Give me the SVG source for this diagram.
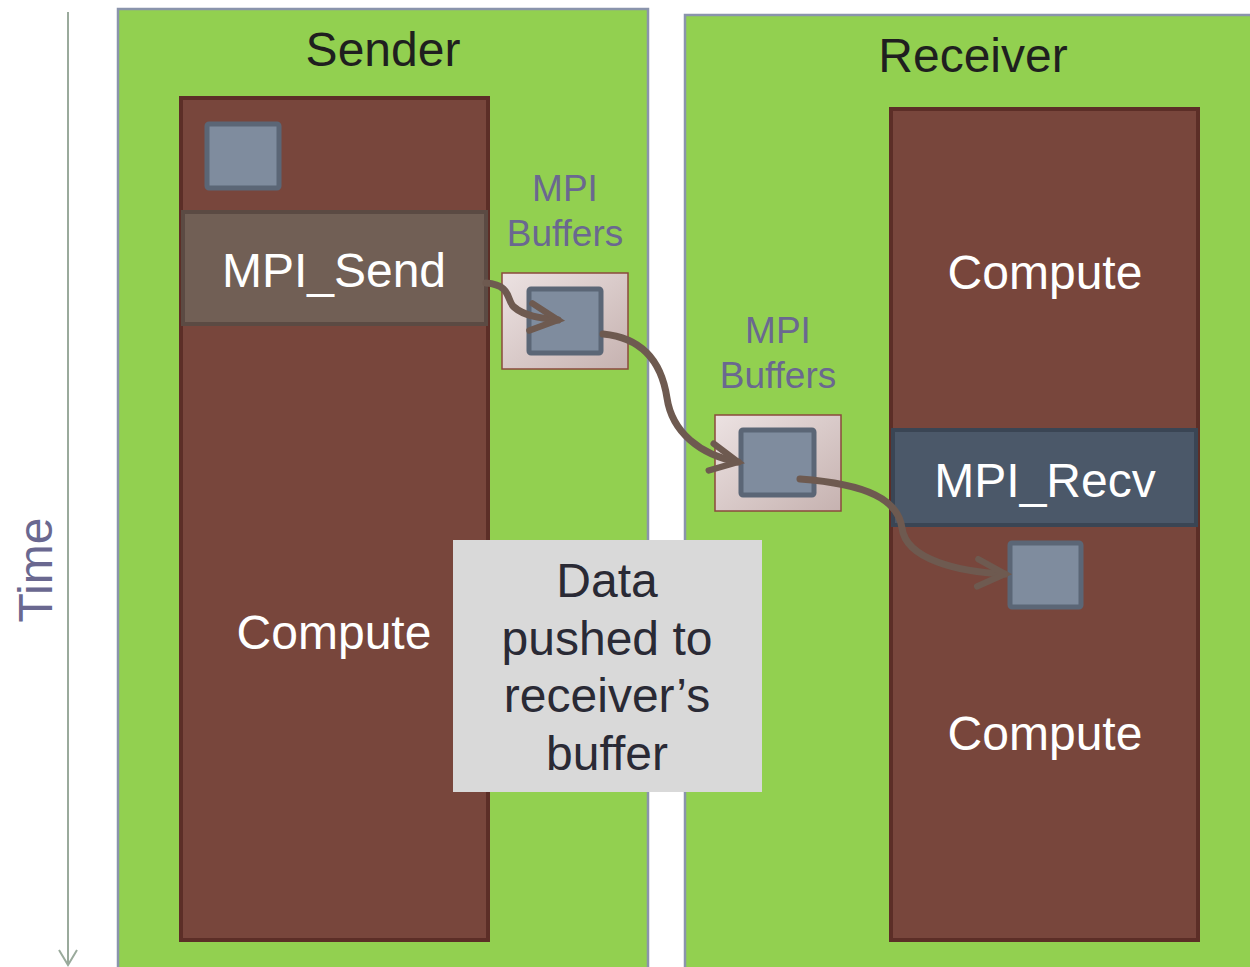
<svg xmlns="http://www.w3.org/2000/svg" width="1250" height="967" viewBox="0 0 1250 967">
  <style>
    .panel { fill: #92d050; stroke: #8a94ac; stroke-width: 2.5; }
    .title { font-family: "Liberation Sans", Arial, sans-serif; font-size: 48px; fill: #1f1f1f; text-anchor: middle; }
    .col { fill: #78463c; stroke: #5c2e27; stroke-width: 4; }
    .send { fill: #715f55; stroke: #5b4a43; stroke-width: 4; }
    .recv { fill: #4b5869; stroke: #3a4554; stroke-width: 4; }
    .white { font-family: "Liberation Sans", Arial, sans-serif; font-size: 48px; fill: #ffffff; text-anchor: middle; }
    .data { fill: #7f8c9e; stroke: #5b6676; stroke-width: 5; }
    .buf { fill: url(#bufGrad); stroke: #8a4a3c; stroke-width: 1.5; }
    .buflabel { font-family: "Liberation Sans", Arial, sans-serif; font-size: 37px; fill: #6a6890; text-anchor: middle; }
    .note { fill: #d9d9d9; }
    .notetext { font-family: "Liberation Sans", Arial, sans-serif; font-size: 48px; fill: #2a2a35; text-anchor: middle; }
    .flow { fill: none; stroke: #6e5a50; stroke-width: 7; stroke-linecap: round; marker-end: url(#chev); }
  </style>
  <defs>
    <linearGradient id="bufGrad" x1="0" y1="0" x2="1" y2="1">
      <stop offset="0" stop-color="#ece2e2"/>
      <stop offset="1" stop-color="#c6b2b0"/>
    </linearGradient>
    <marker id="chev" markerUnits="userSpaceOnUse" markerWidth="40" markerHeight="40" refX="0" refY="0" orient="auto" viewBox="-40 -20 44 40" overflow="visible">
      <path d="M-30,-15 L0,0 L-30,15" fill="none" stroke="#6e5a50" stroke-width="7" stroke-linecap="round" stroke-linejoin="miter"/>
    </marker>
  </defs>

  <rect width="1250" height="967" fill="#ffffff"/>

  <!-- time axis -->
  <g id="time-axis">
    <line x1="68" y1="12" x2="68" y2="964" stroke="#9aaa9c" stroke-width="2"/>
    <path d="M59,950 L68,965 L77,950" fill="none" stroke="#9aaa9c" stroke-width="2"/>
    <text x="52" y="570" transform="rotate(-90 52 570)" font-family="Liberation Sans, Arial, sans-serif" font-size="48" fill="#6a6890" text-anchor="middle">Time</text>
  </g>

  <!-- sender panel -->
  <g id="sender">
    <rect class="panel" x="118" y="9" width="530" height="975"/>
    <text class="title" x="383" y="66">Sender</text>
    <rect class="col" x="181" y="98" width="307" height="842"/>
    <rect class="send" x="183" y="212" width="303" height="112"/>
    <text class="white" x="334" y="287">MPI_Send</text>
    <text class="white" x="334" y="649">Compute</text>
    <rect class="data" x="207" y="124" width="72" height="64" rx="2"/>
  </g>

  <!-- sender MPI buffer -->
  <g id="sender-buffer">
    <text class="buflabel" x="565" y="201">MPI</text>
    <text class="buflabel" x="565" y="246">Buffers</text>
    <rect class="buf" x="502" y="273" width="126" height="96"/>
    <rect class="data" x="529" y="289" width="72" height="64" rx="2"/>
  </g>

  <!-- receiver panel -->
  <g id="receiver">
    <rect class="panel" x="685" y="15" width="590" height="975"/>
    <text class="title" x="973" y="72">Receiver</text>
    <rect class="col" x="891" y="109" width="307" height="831"/>
    <rect class="recv" x="893" y="430" width="303" height="95"/>
    <text class="white" x="1045" y="289">Compute</text>
    <text class="white" x="1045" y="497">MPI_Recv</text>
    <text class="white" x="1045" y="750">Compute</text>
    <rect class="data" x="1010" y="543" width="71" height="64" rx="2"/>
  </g>

  <!-- receiver MPI buffer -->
  <g id="receiver-buffer">
    <text class="buflabel" x="778" y="343">MPI</text>
    <text class="buflabel" x="778" y="388">Buffers</text>
    <rect class="buf" x="715" y="415" width="126" height="96"/>
    <rect class="data" x="741" y="430" width="73" height="65" rx="2"/>
  </g>

  <!-- note -->
  <g id="note">
    <rect class="note" x="453" y="540" width="309" height="252"/>
    <text class="notetext" x="607" y="597">Data</text>
    <text class="notetext" x="607" y="655">pushed to</text>
    <text class="notetext" x="607" y="712">receiver’s</text>
    <text class="notetext" x="607" y="770">buffer</text>
  </g>

  <!-- data flow -->
  <g id="connectors">
    <path class="flow" d="M486,283 C512,285 506,300 514,307 C524,316 540,318 558,320"/>
    <path class="flow" d="M603,334 C645,338 662,365 667,398 C672,432 700,455 738,462"/>
    <path class="flow" d="M800,479 C868,484 898,500 902,528 C906,560 960,572 1005,574"/>
  </g>
</svg>
